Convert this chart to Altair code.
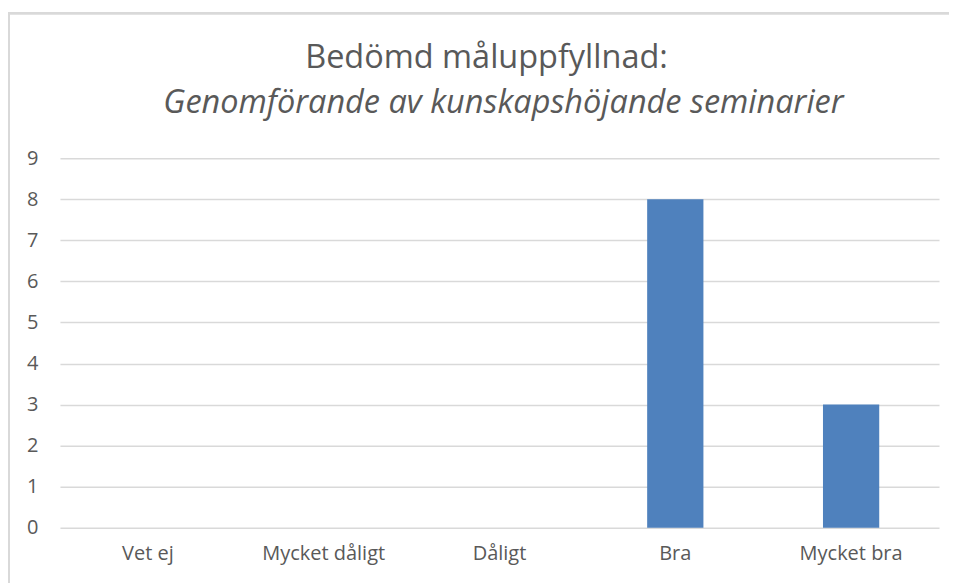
import altair as alt
import pandas as pd

categories = ["Vet ej", "Mycket dåligt", "Dåligt", "Bra", "Mycket bra"]
values = [0, 0, 0, 8, 3]
y_ticks = list(range(0, 10))
title_line1 = "Bedömd måluppfyllnad:"
title_line2 = "Genomförande av kunskapshöjande seminarier"

df = pd.DataFrame({"kategori": categories, "antal": values})

W, H = 880, 370
TEXT = "#595959"
FONT = "Open Sans, sans-serif"

bars = alt.Chart(df).mark_bar(color="#4F81BD").encode(
    x=alt.X("kategori:N", sort=categories,
            scale=alt.Scale(paddingInner=0.68, paddingOuter=0.34),
            axis=alt.Axis(title=None, labelAngle=0, labelFontSize=20, labelColor=TEXT,
                          labelFont=FONT, ticks=False, domain=False, labelPadding=16,
                          grid=False)),
    y=alt.Y("antal:Q", scale=alt.Scale(domain=[0, 9], nice=False),
            axis=alt.Axis(title=None, values=y_ticks, labelFontSize=20, labelColor=TEXT,
                          labelFont=FONT, ticks=False, domain=False, labelPadding=22,
                          grid=True, gridColor="#d9d9d9", gridWidth=1.5)),
)

frame = alt.Chart(df).mark_rect(fill=None, stroke="#d9d9d9", strokeWidth=2, clip=False).encode(
    x=alt.value(-51), x2=alt.value(W + 60),
    y=alt.value(-145), y2=alt.value(H + 100),
)

t1 = alt.Chart(pd.DataFrame({"t": [title_line1]})).mark_text(
    font=FONT, fontSize=32.5, color=TEXT, align="center", baseline="alphabetic"
).encode(text="t:N", x=alt.value(427), y=alt.value(-90))

t2 = alt.Chart(pd.DataFrame({"t": [title_line2]})).mark_text(
    font=FONT, fontSize=32.5, fontStyle="italic", color=TEXT, align="center",
    baseline="alphabetic"
).encode(text="t:N", x=alt.value(444), y=alt.value(-45))

chart = alt.layer(frame, bars, t1, t2).properties(
    width=W, height=H,
    autosize=alt.AutoSizeParams(type="none"),
    padding={"left": 52, "top": 150, "right": 10, "bottom": 60},
).configure_view(stroke=None)

chart.save("out.html", embed_options={"renderer": "svg", "actions": False})
